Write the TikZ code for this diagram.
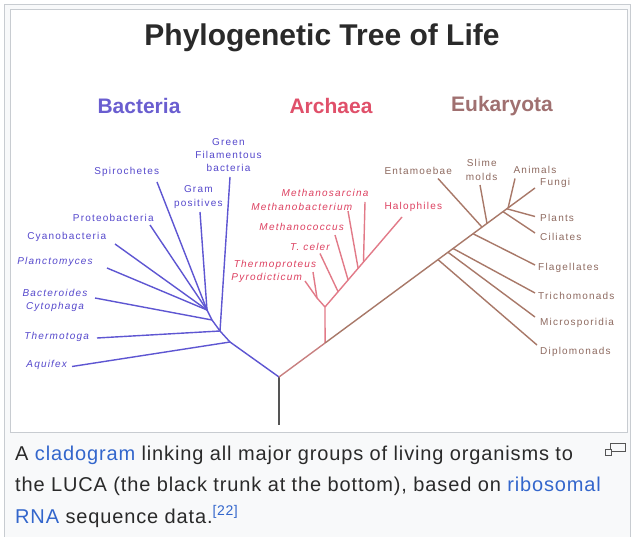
\documentclass[tikz,border=0pt]{standalone}
\usepackage{fontspec}
\setmainfont{Liberation Sans}
\newfontfamily\labfont[LetterSpace=12]{Liberation Sans}
\newfontfamily\capfont[LetterSpace=4.3]{Liberation Sans}
\usetikzlibrary{calc}
\definecolor{bactline}{HTML}{5E56D2}
\definecolor{bactlab}{HTML}{5548CC}
\definecolor{bacthead}{HTML}{6A5ED0}
\definecolor{archline}{HTML}{E27A88}
\definecolor{archlab}{HTML}{DD4060}
\definecolor{archhead}{HTML}{E0506A}
\definecolor{eukline}{HTML}{A87868}
\definecolor{euklab}{HTML}{8E6A60}
\definecolor{eukhead}{HTML}{A07070}
\definecolor{stemline}{HTML}{C88080}
\definecolor{trunk}{HTML}{555555}
\definecolor{capbg}{HTML}{F8F9FA}
\definecolor{frame}{HTML}{C8CCD1}
\definecolor{link}{HTML}{3366CC}
\definecolor{captext}{HTML}{2A2A2A}
\tikzset{
  labbase/.style={inner sep=0pt, align=center, font=\labfont\fontsize{10}{13.3}\selectfont},
  blab/.style={labbase, text=bactlab},
  alab/.style={labbase, text=archlab},
  elab/.style={labbase, text=euklab},
  bline/.style={draw=bactline, line width=1.4pt},
  aline/.style={draw=archline, line width=1.4pt},
  eline/.style={draw=eukline, line width=1.4pt},
  headbox/.style={inner sep=0pt, font=\bfseries\fontsize{21}{24}\selectfont},
  captbox/.style={inner sep=0pt, anchor=west, text=captext, font=\capfont\fontsize{20}{24}\selectfont},
}
\begin{document}
\begin{tikzpicture}[x=1pt,y=-1pt]
\useasboundingbox (0,0) rectangle (634,537);
\fill[white] (0,0) rectangle (634,537);
% frames
\filldraw[fill=capbg, draw=frame, line width=1pt] (4,5) rectangle (630,545);
\filldraw[fill=white, draw=frame, line width=1pt] (10,10) rectangle (627,432);

% title and headings
\node[inner sep=0pt, text=captext, font=\bfseries\fontsize{30}{33}\selectfont] (title) at (322,38) {Phylogenetic Tree of Life};
\node[headbox, text=bacthead] (hbact) at (139,106) {Bacteria};
\node[headbox, text=archhead] (harch) at (331,106) {Archaea};
\node[headbox, text=eukhead] (heuk) at (502,106) {Eukaryota};

% key points
\coordinate (R) at (279,377);
\coordinate (Tb) at (279,425);
\coordinate (F) at (535,188);
\coordinate (A0) at ($(R)!0.18!(F)$);
\coordinate (A1) at (325,307);
\coordinate (A2) at (317,298);
\coordinate (H) at (402,217);
\coordinate (B1) at (230,342);
\coordinate (B2) at (220,331);
\coordinate (B3) at (212,320);
\coordinate (B4) at (207,310);

% trunk
\draw[draw=trunk, line width=1.5pt] (R) -- (Tb);

% ---------- Bacteria ----------
\node[blab] (aquifex) at (46.7,365) {\itshape Aquifex};
\node[blab] (thermotoga) at (56.7,337) {\itshape Thermotoga};
\node[blab] (bacteroides) at (55,300.5) {\itshape Bacteroides\\\itshape Cytophaga};
\node[blab] (plancto) at (55,262) {\itshape Planctomyces};
\node[blab] (cyano) at (66.7,237.3) {Cyanobacteria};
\node[blab] (proteo) at (113.3,217.7) {Proteobacteria};
\node[blab] (spiro) at (126.7,171.7) {Spirochetes};
\node[blab] (gram) at (198.3,197) {Gram\\positives};
\node[blab] (green) at (228.5,155) {Green\\Filamentous\\bacteria};

\coordinate (eAq) at (72,366.5);
\coordinate (eTh) at (97,338);
\coordinate (eBa) at (95,298);
\coordinate (ePl) at (107,268);
\coordinate (eCy) at (115,244);
\coordinate (ePr) at (150,225);
\coordinate (eSp) at (157,182);
\coordinate (eGr) at (200,212);
\coordinate (eGf) at (230,177);

\draw[bline] (R) -- (B1) -- (B2) -- (B3) -- (B4);
\draw[bline] (B1) -- (eAq);
\draw[bline] (B2) -- (eTh);
\draw[bline] (B2) -- (eGf);
\draw[bline] (B3) -- (eBa);
\draw[bline] (B4) -- (ePl);
\draw[bline] (B4) -- (eCy);
\draw[bline] (B4) -- (ePr);
\draw[bline] (B4) -- (eSp);
\draw[bline] (B4) -- (eGr);

% ---------- Archaea ----------
\node[alab] (msarc) at (325,193.3) {\itshape Methanosarcina};
\node[alab] (mbact) at (301.7,207.3) {\itshape Methanobacterium};
\node[alab] (mcocc) at (301.7,227.3) {\itshape Methanococcus};
\node[alab] (tceler) at (310,247.3) {\itshape T. celer};
\node[alab] (tprot) at (275,265) {\itshape Thermoproteus};
\node[alab] (pyro) at (266.7,278.3) {\itshape Pyrodicticum};
\node[alab] (halo) at (413.3,207.3) {Halophiles};

\coordinate (nTc) at ($(A1)!0.17!(H)$);
\coordinate (nMc) at ($(A1)!0.30!(H)$);
\coordinate (nMb) at ($(A1)!0.43!(H)$);
\coordinate (nMs) at ($(A1)!0.50!(H)$);
\coordinate (eTc) at (320,253.5);
\coordinate (eMc) at (335,235);
\coordinate (eMb) at (348,211);
\coordinate (eMs) at (365,202);
\coordinate (eTp) at (313,272);
\coordinate (ePy) at (305,281);

\draw[draw=stemline, line width=1.4pt] (R) -- (A0);
\draw[aline] (A0) -- (A1);
\draw[aline] (A1) -- (A2);
\draw[aline] (A2) -- (eTp);
\draw[aline] (A2) -- (ePy);
\draw[aline] (A1) -- (H);
\draw[aline] (nTc) -- (eTc);
\draw[aline] (nMc) -- (eMc);
\draw[aline] (nMb) -- (eMb);
\draw[aline] (nMs) -- (eMs);

% ---------- Eukaryota ----------
\node[elab] (entam) at (418.3,170.7) {Entamoebae};
\node[elab] (slime) at (481.7,170) {Slime\\molds};
\node[elab] (animals) at (535,170) {Animals};
\node[elab, anchor=west] (fungi) at (540,183.3) {Fungi};
\node[elab, anchor=west] (plants) at (540,218.3) {Plants};
\node[elab, anchor=west] (cil) at (540,237.3) {Ciliates};
\node[elab, anchor=west] (flag) at (538,268.3) {Flagellates};
\node[elab, anchor=west] (trich) at (538,296) {Trichomonads};
\node[elab, anchor=west] (micro) at (540,323.3) {Microsporidia};
\node[elab, anchor=west] (diplo) at (540,351.7) {Diplomonads};

\coordinate (nDi) at ($(R)!0.621!(F)$);
\coordinate (nMi) at ($(R)!0.66!(F)$);
\coordinate (nTr) at ($(R)!0.68!(F)$);
\coordinate (nFl) at ($(R)!0.758!(F)$);
\coordinate (nEn) at ($(R)!0.793!(F)$);
\coordinate (nSl) at ($(R)!0.8125!(F)$);
\coordinate (nCi) at ($(R)!0.875!(F)$);
\coordinate (nPl) at ($(R)!0.89!(F)$);
\coordinate (nAn) at ($(R)!0.895!(F)$);
\coordinate (eDi) at (537,345);
\coordinate (eMi) at (535,317);
\coordinate (eTr) at (535,293);
\coordinate (eFl) at (535,265);
\coordinate (eEn) at (438,178.5);
\coordinate (eSl) at (480,185);
\coordinate (eCi) at (535,233);
\coordinate (ePl2) at (535,216.5);
\coordinate (eAn) at (515,178.5);

\draw[eline] (A0) -- (F);
\draw[eline] (nDi) -- (eDi);
\draw[eline] (nMi) -- (eMi);
\draw[eline] (nTr) -- (eTr);
\draw[eline] (nFl) -- (eFl);
\draw[eline] (nEn) -- (eEn);
\draw[eline] (nSl) -- (eSl);
\draw[eline] (nCi) -- (eCi);
\draw[eline] (nPl) -- (ePl2);
\draw[eline] (nAn) -- (eAn);

% ---------- caption ----------
\node[captbox] (cap1) at (15,455) {A \textcolor{link}{cladogram} linking all major groups of living organisms to};
\node[captbox] (cap2) at (15,486) {the LUCA (the black trunk at the bottom), based on \textcolor{link}{ribosomal}};
\node[captbox] (cap3) at (15,516.5) {\textcolor{link}{RNA} sequence data.\textcolor{link}{\textsuperscript{[22]}}};

% enlarge icon
\draw[draw=trunk, line width=1pt] (610,443.5) rectangle (625,451.5);
\filldraw[fill=capbg, draw=trunk, line width=1pt] (605,449.5) rectangle (611.5,455);
\end{tikzpicture}
\end{document}
